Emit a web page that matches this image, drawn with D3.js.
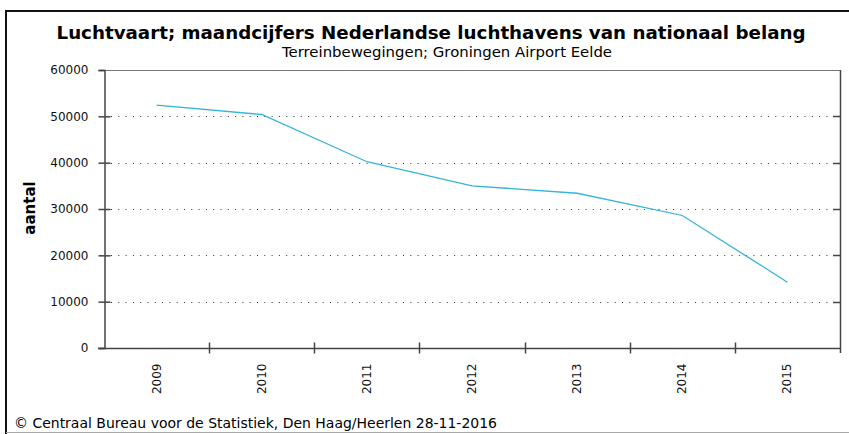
<!DOCTYPE html>
<html>
<head>
<meta charset="utf-8">
<script src="https://cdn.jsdelivr.net/npm/d3@7"></script>
<style>
  body { margin: 0; background: #fff; }
  svg { display: block; }
</style>
</head>
<body>
<svg></svg>
<script>
const years = ['2009', '2010', '2011', '2012', '2013', '2014', '2015'];
const movements = [52400, 50400, 40200, 35000, 33400, 28600, 14200];
const yTicks = [0, 10000, 20000, 30000, 40000, 50000, 60000];
const gridTicks = [10000, 20000, 30000, 40000, 50000];

const title = 'Luchtvaart; maandcijfers Nederlandse luchthavens van nationaal belang';
const subtitle = 'Terreinbewegingen; Groningen Airport Eelde';
const footer = '© Centraal Bureau voor de Statistiek, Den Haag/Heerlen 28-11-2016';

const svgWidth = 849;
const svgHeight = 434;
const plot = {left: 104, right: 840, top: 70, bottom: 348};
const axisColor = '#444';

const svg = d3.select('svg')
    .attr('width', svgWidth)
    .attr('height', svgHeight);

// frame round the picture
svg.append('line').attr('x1', 6).attr('x2', svgWidth).attr('y1', 11).attr('y2', 11)
    .attr('stroke', '#111').attr('stroke-width', 2);
svg.append('line').attr('x1', 6).attr('x2', 6).attr('y1', 10).attr('y2', 434)
    .attr('stroke', '#111').attr('stroke-width', 2);
svg.append('line').attr('x1', 6).attr('x2', svgWidth).attr('y1', 432.5).attr('y2', 432.5)
    .attr('stroke', '#aaa').attr('stroke-width', 1);

const x = d3.scaleBand()
    .domain(years)
    .range([plot.left, plot.right]);

const y = d3.scaleLinear()
    .domain([0, 60000])
    .range([plot.bottom, plot.top]);

// titles
svg.append('text')
    .attr('x', 431).attr('y', 39)
    .attr('text-anchor', 'middle')
    .attr('font-family', 'DejaVu Sans')
    .attr('font-weight', 'bold')
    .attr('font-size', 18)
    .attr('textLength', 749)
    .attr('lengthAdjust', 'spacingAndGlyphs')
    .attr('fill', '#000')
    .text(title);

svg.append('text')
    .attr('x', 447).attr('y', 57)
    .attr('text-anchor', 'middle')
    .attr('font-family', 'DejaVu Sans')
    .attr('font-size', 14)
    .attr('textLength', 330)
    .attr('lengthAdjust', 'spacingAndGlyphs')
    .attr('fill', '#000')
    .text(subtitle);

svg.append('text')
    .attr('x', 14).attr('y', 428)
    .attr('font-family', 'DejaVu Sans')
    .attr('font-size', 14)
    .attr('textLength', 483)
    .attr('lengthAdjust', 'spacingAndGlyphs')
    .attr('fill', '#000')
    .text(footer);

// dotted grid
svg.append('g')
    .selectAll('line')
    .data(gridTicks)
    .enter()
    .append('line')
    .attr('x1', plot.left + 7)
    .attr('x2', plot.right - 7)
    .attr('y1', d => Math.round(y(d)) + 0.5)
    .attr('y2', d => Math.round(y(d)) + 0.5)
    .attr('stroke', '#333')
    .attr('stroke-width', 1)
    .attr('stroke-dasharray', '1,6.3');

// top border of plot
svg.append('line')
    .attr('x1', plot.left).attr('x2', plot.right)
    .attr('y1', plot.top + 0.5).attr('y2', plot.top + 0.5)
    .attr('stroke', '#777');

// right axis with inward ticks
svg.append('line')
    .attr('x1', plot.right + 0.5).attr('x2', plot.right + 0.5)
    .attr('y1', plot.top).attr('y2', plot.bottom + 5)
    .attr('stroke', axisColor).attr('stroke-width', 1.5);
svg.append('g')
    .selectAll('line')
    .data(gridTicks)
    .enter()
    .append('line')
    .attr('x1', plot.right - 7).attr('x2', plot.right)
    .attr('y1', d => Math.round(y(d)) + 0.5)
    .attr('y2', d => Math.round(y(d)) + 0.5)
    .attr('stroke', axisColor).attr('stroke-width', 1.5);

// left axis
const yAxis = svg.append('g')
    .attr('transform', 'translate(' + (plot.left + 0.5) + ',0)')
    .call(d3.axisLeft(y).tickValues(yTicks).tickSize(6).tickPadding(10).tickFormat(d3.format('d')));
yAxis.select('.domain').attr('stroke', axisColor).attr('stroke-width', 1.5);
yAxis.selectAll('.tick line').attr('stroke', axisColor).attr('stroke-width', 1.5);
yAxis.selectAll('.tick')
    .filter(d => d > 0 && d < 60000)
    .append('line')
    .attr('x1', 0).attr('x2', 6)
    .attr('stroke', axisColor).attr('stroke-width', 1.5);
yAxis.selectAll('.tick text')
    .attr('font-family', 'DejaVu Sans')
    .attr('font-size', 12)
    .attr('fill', '#111');

// bottom axis: ticks at band boundaries, labels at band centres
const xAxis = svg.append('g')
    .attr('transform', 'translate(0,' + (plot.bottom + 0.5) + ')');
xAxis.append('line')
    .attr('x1', plot.left - 6).attr('x2', plot.right)
    .attr('stroke', axisColor).attr('stroke-width', 1.5);
xAxis.selectAll('.bound')
    .data(years.slice(1))
    .enter()
    .append('line')
    .attr('class', 'bound')
    .attr('x1', d => Math.round(x(d)) + 0.5)
    .attr('x2', d => Math.round(x(d)) + 0.5)
    .attr('y1', -6).attr('y2', 5)
    .attr('stroke', axisColor).attr('stroke-width', 1.5);
xAxis.selectAll('text')
    .data(years)
    .enter()
    .append('text')
    .attr('transform', d => 'translate(' + (x(d) + x.bandwidth() / 2 + 4) + ',15) rotate(-90)')
    .attr('text-anchor', 'end')
    .attr('font-family', 'DejaVu Sans')
    .attr('font-size', 12)
    .attr('fill', '#111')
    .text(d => d);

// y axis title
svg.append('text')
    .attr('transform', 'translate(35,208) rotate(-90)')
    .attr('text-anchor', 'middle')
    .attr('font-family', 'DejaVu Sans')
    .attr('font-weight', 'bold')
    .attr('font-size', 15)
    .attr('fill', '#000')
    .text('aantal');

// the line
const line = d3.line()
    .x((d, i) => x(years[i]) + x.bandwidth() / 2)
    .y(d => y(d));

svg.append('path')
    .datum(movements)
    .attr('d', line)
    .attr('fill', 'none')
    .attr('stroke', '#35b3dc')
    .attr('stroke-width', 1.3);
</script>
</body>
</html>
